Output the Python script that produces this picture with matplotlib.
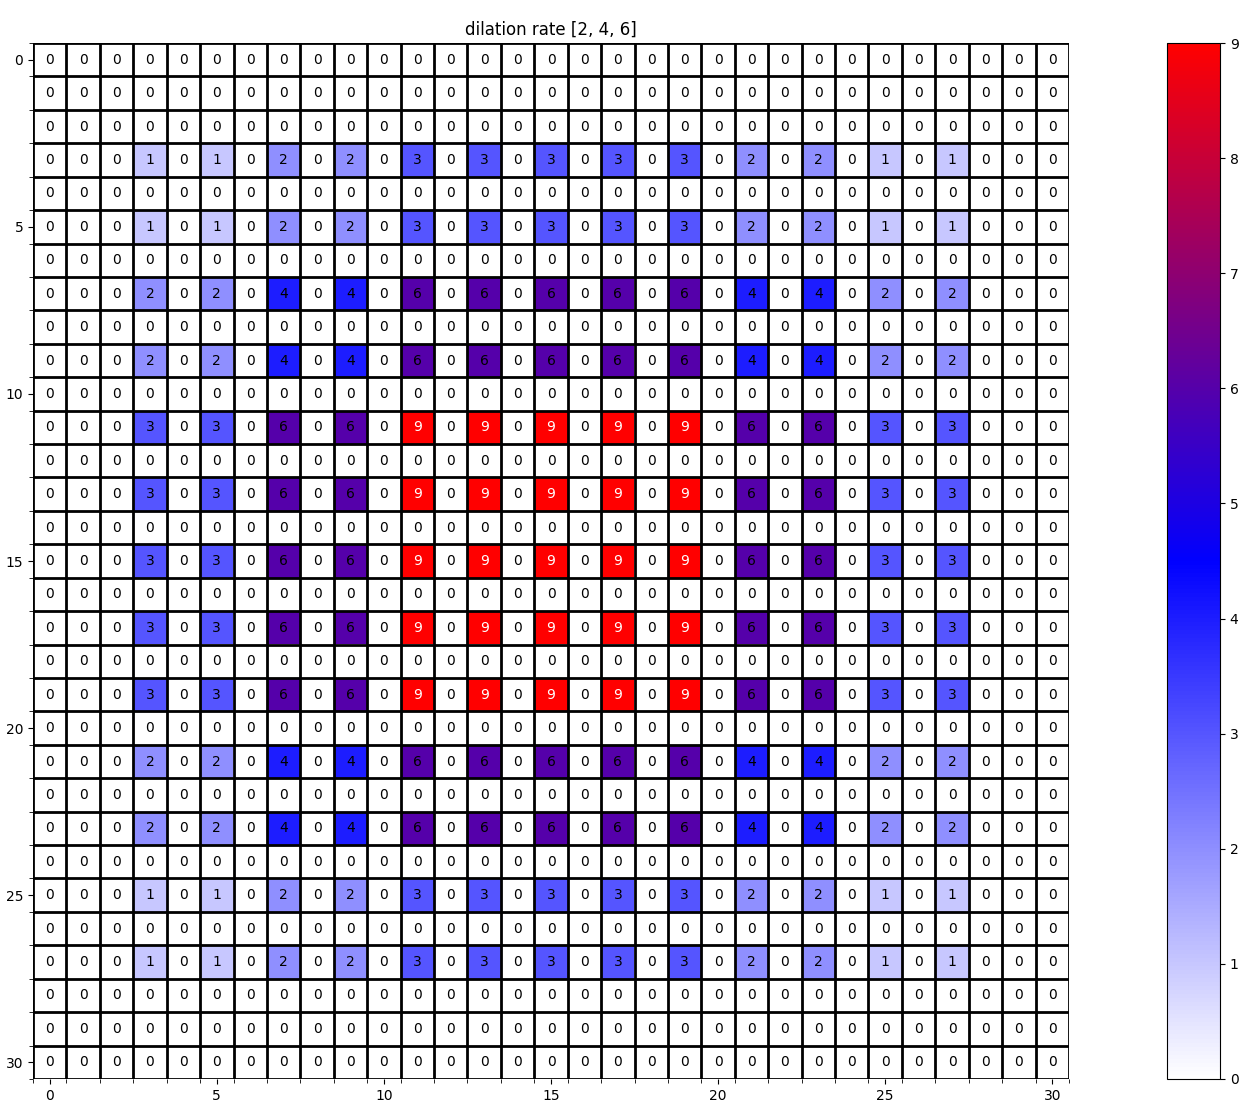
import numpy as np
import matplotlib
matplotlib.use("Agg")
import matplotlib.pyplot as plt
from matplotlib.colors import LinearSegmentedColormap

title = "dilation rate [2, 4, 6]"

zero_row = [0] * 31
row_a = [0,0,0,1,0,1,0,2,0,2,0,3,0,3,0,3,0,3,0,3,0,2,0,2,0,1,0,1,0,0,0]
row_b = [0,0,0,2,0,2,0,4,0,4,0,6,0,6,0,6,0,6,0,6,0,4,0,4,0,2,0,2,0,0,0]
row_c = [0,0,0,3,0,3,0,6,0,6,0,9,0,9,0,9,0,9,0,9,0,6,0,6,0,3,0,3,0,0,0]

grid_rows = [
    zero_row, zero_row, zero_row, row_a, zero_row, row_a, zero_row,
    row_b, zero_row, row_b, zero_row, row_c, zero_row, row_c, zero_row,
    row_c, zero_row, row_c, zero_row, row_c, zero_row, row_b, zero_row,
    row_b, zero_row, row_a, zero_row, row_a, zero_row, zero_row, zero_row,
]
data = np.array(grid_rows)
n = data.shape[0]

cmap = LinearSegmentedColormap.from_list("wbr", ["white", "blue", "red"])

fig = plt.figure(figsize=(12.5, 11.07), dpi=100)
ax = fig.add_axes([0.0264, 0.0253, 0.8288, 0.9358])
cax = fig.add_axes([0.9336, 0.0253, 0.0424, 0.9358])

im = ax.imshow(data, cmap=cmap, vmin=0, vmax=9, aspect="auto")
for i in range(n):
    for j in range(n):
        v = data[i, j]
        ax.text(j, i, str(v), ha="center", va="center", fontsize=10,
                color="white" if v >= 7 else "black")

ax.set_xticks(np.arange(0, n, 5))
ax.set_yticks(np.arange(0, n, 5))
ax.set_xticks(np.arange(-0.5, n, 1), minor=True)
ax.set_yticks(np.arange(-0.5, n, 1), minor=True)
ax.grid(which="minor", color="black", linewidth=2)
ax.tick_params(which="minor", length=3)
for s in ax.spines.values():
    s.set_visible(False)
ax.set_title(title, fontsize=12)

cb = fig.colorbar(im, cax=cax, ticks=range(0, 10))

fig.savefig("out.png", dpi=100)
